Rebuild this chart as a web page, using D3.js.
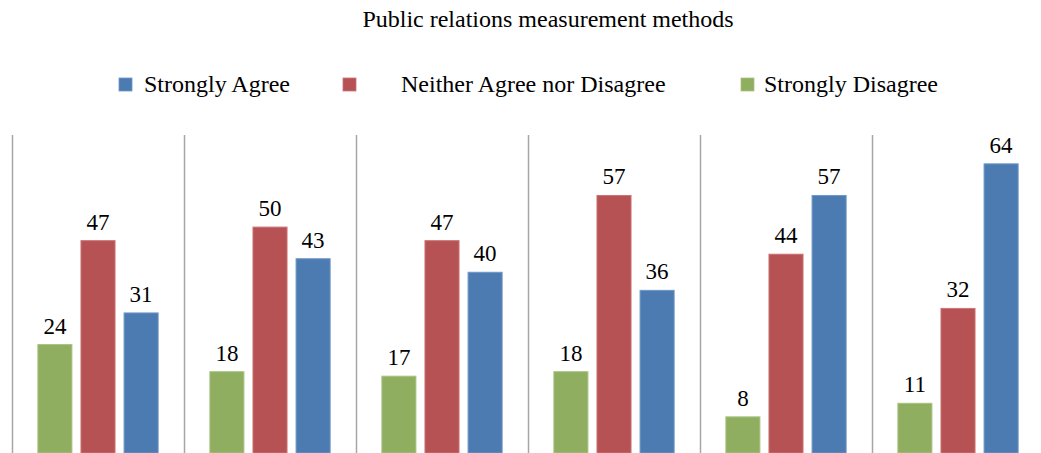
<!DOCTYPE html>
<html>
<head>
<meta charset="utf-8">
<script src="https://cdn.jsdelivr.net/npm/d3@7"></script>
<style>
  html, body { margin: 0; padding: 0; background: #fff; }
  svg { display: block; }
  text { font-family: "Liberation Serif", "Times New Roman", serif; fill: #000; }
</style>
</head>
<body>
<svg id="chart" width="1041" height="453"></svg>
<script>
// Survey results per measurement method (percent of respondents)
const methods = ["Method 1", "Method 2", "Method 3", "Method 4", "Method 5", "Method 6"];
const seriesNames = ["Strongly Disagree", "Neither Agree nor Disagree", "Strongly Agree"];
const stronglyDisagree = [24, 18, 17, 18, 8, 11];
const neitherAgreeNorDisagree = [47, 50, 47, 57, 44, 32];
const stronglyAgree = [31, 43, 40, 36, 57, 64];
const legendOrder = ["Strongly Agree", "Neither Agree nor Disagree", "Strongly Disagree"];

const seriesValues = {
  "Strongly Disagree": stronglyDisagree,
  "Neither Agree nor Disagree": neitherAgreeNorDisagree,
  "Strongly Agree": stronglyAgree
};
const fills = {
  "Strongly Agree": "#4c7bb2",
  "Neither Agree nor Disagree": "#b65154",
  "Strongly Disagree": "#8fae60"
};
const strokes = {
  "Strongly Agree": "#6f97c6",
  "Neither Agree nor Disagree": "#cc7476",
  "Strongly Disagree": "#a9c383"
};

const svg = d3.select("#chart");

// Plot area: the category axis runs off the bottom edge
const plot = { left: 12, right: 1044, top: 135, bottom: 453 };

const x0 = d3.scaleBand().domain(methods).range([plot.left, plot.right]).padding(0);
const x1 = d3.scaleBand().domain(seriesNames).range([0, x0.bandwidth()])
  .paddingInner(0.21).paddingOuter(0.6);
const y = d3.scaleLinear().domain([0, 70.4]).range([plot.bottom, plot.bottom - 70.4 * 4.518]);

// Title
svg.append("text")
  .attr("x", 548).attr("y", 27)
  .attr("text-anchor", "middle")
  .style("font-size", "24px")
  .text("Public relations measurement methods");

// Legend
const legendPos = {
  "Strongly Agree": { sx: 119, tx: 144 },
  "Neither Agree nor Disagree": { sx: 343, tx: 401 },
  "Strongly Disagree": { sx: 741, tx: 764 }
};
const legend = svg.append("g").attr("class", "legend");
legendOrder.forEach(name => {
  const p = legendPos[name];
  legend.append("rect")
    .attr("x", p.sx).attr("y", 78).attr("width", 13).attr("height", 13)
    .attr("fill", fills[name]).attr("stroke", strokes[name]).attr("stroke-width", 0.8);
  legend.append("text")
    .attr("x", p.tx).attr("y", 92)
    .style("font-size", "24px")
    .text(name);
});

// Category separators
svg.append("g").selectAll("line")
  .data(methods)
  .join("line")
  .attr("x1", d => Math.round(x0(d)) + 0.5)
  .attr("x2", d => Math.round(x0(d)) + 0.5)
  .attr("y1", plot.top).attr("y2", plot.bottom)
  .attr("stroke", "#a6a6a6").attr("stroke-width", 1.5);

// Bars and value labels
const groups = svg.append("g").selectAll("g")
  .data(methods)
  .join("g")
  .attr("transform", d => `translate(${x0(d)},0)`);

const cells = groups.selectAll("g")
  .data((m, i) => seriesNames.map(s => ({ series: s, value: seriesValues[s][i] })))
  .join("g");

cells.append("rect")
  .attr("x", d => x1(d.series))
  .attr("y", d => y(d.value))
  .attr("width", x1.bandwidth())
  .attr("height", d => y(0) - y(d.value))
  .attr("fill", d => fills[d.series])
  .attr("stroke", d => strokes[d.series])
  .attr("stroke-width", 1);

cells.append("text")
  .attr("x", d => x1(d.series) + x1.bandwidth() / 2)
  .attr("y", d => y(d.value) - 11)
  .attr("text-anchor", "middle")
  .style("font-size", "23px")
  .text(d => d.value);
</script>
</body>
</html>
